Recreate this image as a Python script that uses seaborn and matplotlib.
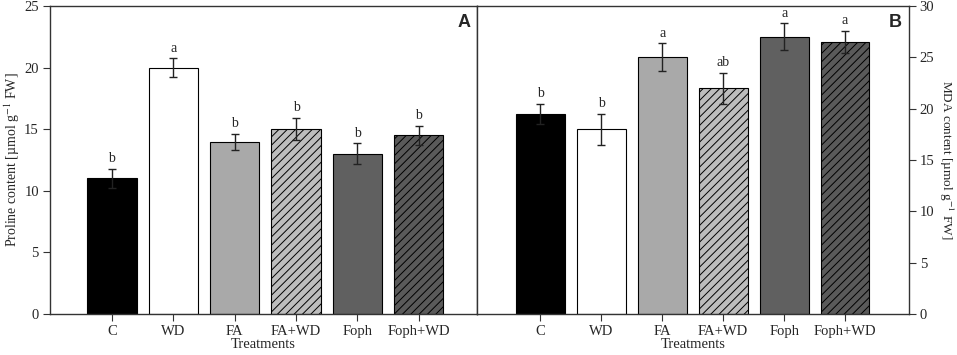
import matplotlib
matplotlib.use("Agg")
import matplotlib.pyplot as plt
import seaborn as sns
import pandas as pd

treatments = ["C", "WD", "FA", "FA+WD", "Foph", "Foph+WD"]
proline = [11.0, 20.0, 14.0, 15.0, 13.0, 14.5]
proline_err = [0.8, 0.75, 0.65, 0.9, 0.85, 0.75]
proline_letters = ["b", "a", "b", "b", "b", "b"]
mda = [19.5, 18.0, 25.0, 22.0, 27.0, 26.5]
mda_err = [1.0, 1.5, 1.35, 1.5, 1.3, 1.1]
mda_letters = ["b", "b", "a", "ab", "a", "a"]

colors = ["#000000", "#ffffff", "#a9a9a9", "#bdbdbd", "#606060", "#5a5a5a"]
hatches = ["", "", "", "////", "", "////"]

sns.set_theme(style="white")
plt.rcParams["font.family"] = ["Liberation Serif", "DejaVu Serif"]
plt.rcParams["mathtext.fontset"] = "stix"
plt.rcParams["hatch.linewidth"] = 0.7
plt.rcParams["hatch.color"] = "#111111"

fig = plt.figure(figsize=(9.57, 3.55), dpi=100)
axA = fig.add_axes([50 / 957, 41 / 355, (477 - 50) / 957, 308 / 355])
axB = fig.add_axes([477 / 957, 41 / 355, (908.5 - 477) / 957, 308 / 355])


def draw(ax, vals, errs, letters, ymax, ystep, offset):
    df = pd.DataFrame({"Treatments": treatments, "v": vals})
    sns.barplot(data=df, x="Treatments", y="v", hue="Treatments",
                palette=colors, legend=False, ax=ax, width=0.8,
                edgecolor="black", linewidth=0.8, errorbar=None, saturation=1)
    for p, h in zip(ax.patches, hatches):
        p.set_hatch(h)
    xs = range(len(treatments))
    ax.errorbar(list(xs), vals, yerr=errs, fmt="none", ecolor="#222222",
                elinewidth=1.0, capsize=3, capthick=1.0)
    for x, v, e, t in zip(xs, vals, errs, letters):
        ax.text(x, v + e + offset, t, ha="center", va="bottom", fontsize=10)
    ax.set_ylim(0, ymax)
    ax.set_yticks(range(0, ymax + 1, ystep))
    ax.set_xlabel("Treatments", fontsize=10.5, labelpad=0)
    ax.tick_params(axis="both", which="both", direction="out", length=5,
                   width=0.8, color="#333333", labelsize=10.5, pad=3)
    for s in ax.spines.values():
        s.set_color("#333333")
        s.set_linewidth(1.0)


draw(axA, proline, proline_err, proline_letters, 25, 5, 0.3)
axA.set_xlim(-1.01, 5.95)
axA.set_ylabel("Proline content [µmol g$^{-1}$ FW]", fontsize=10, va="center")
axA.yaxis.set_label_coords(-38 / 427, 0.5)
axA.tick_params(axis="y", left=True, right=False)
axA.tick_params(axis="x", bottom=True)

draw(axB, mda, mda_err, mda_letters, 30, 5, 0.36)
axB.set_xlim(-1.04, 6.04)
axB.yaxis.tick_right()
axB.yaxis.set_label_position("right")
axB.tick_params(axis="y", left=False, right=True)
axB.tick_params(axis="x", bottom=True)
axB.set_ylabel("MDA content [µmol g$^{-1}$ FW]", fontsize=9.5, rotation=270,
               va="center")
axB.yaxis.set_label_coords(1 + 38 / 431.5, 0.5)

axA.text(0.985, 0.975, "A", transform=axA.transAxes, ha="right", va="top",
         fontsize=13, fontweight="bold", family="Liberation Sans")
axB.text(0.985, 0.975, "B", transform=axB.transAxes, ha="right", va="top",
         fontsize=13, fontweight="bold", family="Liberation Sans")

fig.savefig("out.png", dpi=100)
